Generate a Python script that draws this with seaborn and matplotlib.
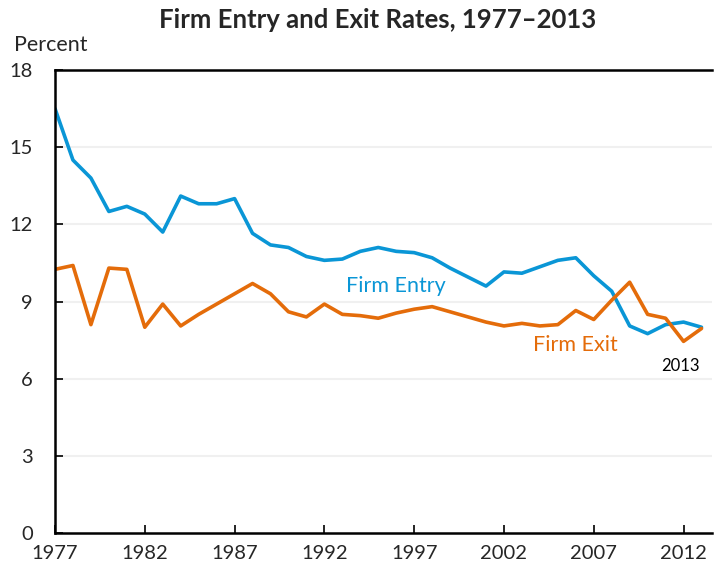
import numpy as np
import pandas as pd
import matplotlib
matplotlib.use("Agg")
import matplotlib.pyplot as plt
import seaborn as sns

# --- DATA ---
years = list(range(1977, 2014))
entry_rate = [16.5, 14.5, 13.8, 12.5, 12.7, 12.4, 11.7, 13.1, 12.8, 12.8, 13.0,
              11.65, 11.2, 11.1, 10.75, 10.6, 10.65, 10.95, 11.1, 10.95, 10.9,
              10.7, 10.3, 9.95, 9.6, 10.15, 10.1, 10.35, 10.6, 10.7, 10.0,
              9.4, 8.05, 7.75, 8.1, 8.2, 8.0]
exit_rate = [10.25, 10.4, 8.1, 10.3, 10.25, 8.0, 8.9, 8.05, 8.5, 8.9, 9.3,
             9.7, 9.3, 8.6, 8.4, 8.9, 8.5, 8.45, 8.35, 8.55, 8.7,
             8.8, 8.6, 8.4, 8.2, 8.05, 8.15, 8.05, 8.1, 8.65, 8.3,
             9.05, 9.75, 8.5, 8.35, 7.45, 7.95]
series_names = ["Firm Entry", "Firm Exit"]
series_colors = ["#0A96D6", "#E46C0A"]
x_ticks = [1977, 1982, 1987, 1992, 1997, 2002, 2007, 2012]
y_ticks = [0, 3, 6, 9, 12, 15, 18]

df = pd.DataFrame({
    "year": years * 2,
    "rate": entry_rate + exit_rate,
    "series": [series_names[0]] * len(years) + [series_names[1]] * len(years),
})

sns.set_theme(style="white")
plt.rcParams["font.family"] = ["Lato", "DejaVu Sans"]

fig = plt.figure(figsize=(7.16, 5.67), dpi=100)
ax = fig.add_axes([0.0768, 0.06, 0.918, 0.8165])

# light horizontal gridlines
for y in y_ticks[1:-1]:
    ax.axhline(y, color="#f0f0f0", lw=1.5, zorder=0)

sns.lineplot(data=df, x="year", y="rate", hue="series",
             palette=dict(zip(series_names, series_colors)),
             linewidth=2.6, legend=False, ax=ax)

ax.set_xlim(1977, 2013.6)
ax.set_ylim(0, 18)
ax.set_xticks(x_ticks)
ax.set_yticks(y_ticks)
ax.set_xticklabels([str(t) for t in x_ticks], fontsize=14.5)
ax.set_yticklabels([str(t) for t in y_ticks], fontsize=14.5)
ax.tick_params(axis="both", direction="in", length=6, width=1.2, color="black",
               bottom=True, left=True)
ax.tick_params(axis="x", pad=9)
ax.tick_params(axis="y", pad=16)
ax.set_xlabel("")
ax.set_ylabel("")

for side in ["left", "bottom", "top"]:
    ax.spines[side].set_visible(True)
    ax.spines[side].set_color("black")
    ax.spines[side].set_linewidth(1.8)
ax.spines["right"].set_visible(False)

ax.text(1993.2, 9.6, "Firm Entry", color=series_colors[0], fontsize=15.5, va="center")
ax.text(2003.6, 7.3, "Firm Exit", color=series_colors[1], fontsize=15.5, va="center")
ax.text(2011.8, 6.5, "2013", color="black", fontsize=12, ha="center", va="center")

fig.text(0.528, 0.965, "Firm Entry and Exit Rates, 1977\u20132013",
         ha="center", va="center", fontsize=18.5, fontweight="bold")
fig.text(0.02, 0.921, "Percent", ha="left", va="center", fontsize=15.5)

fig.savefig("out.png", dpi=100)
